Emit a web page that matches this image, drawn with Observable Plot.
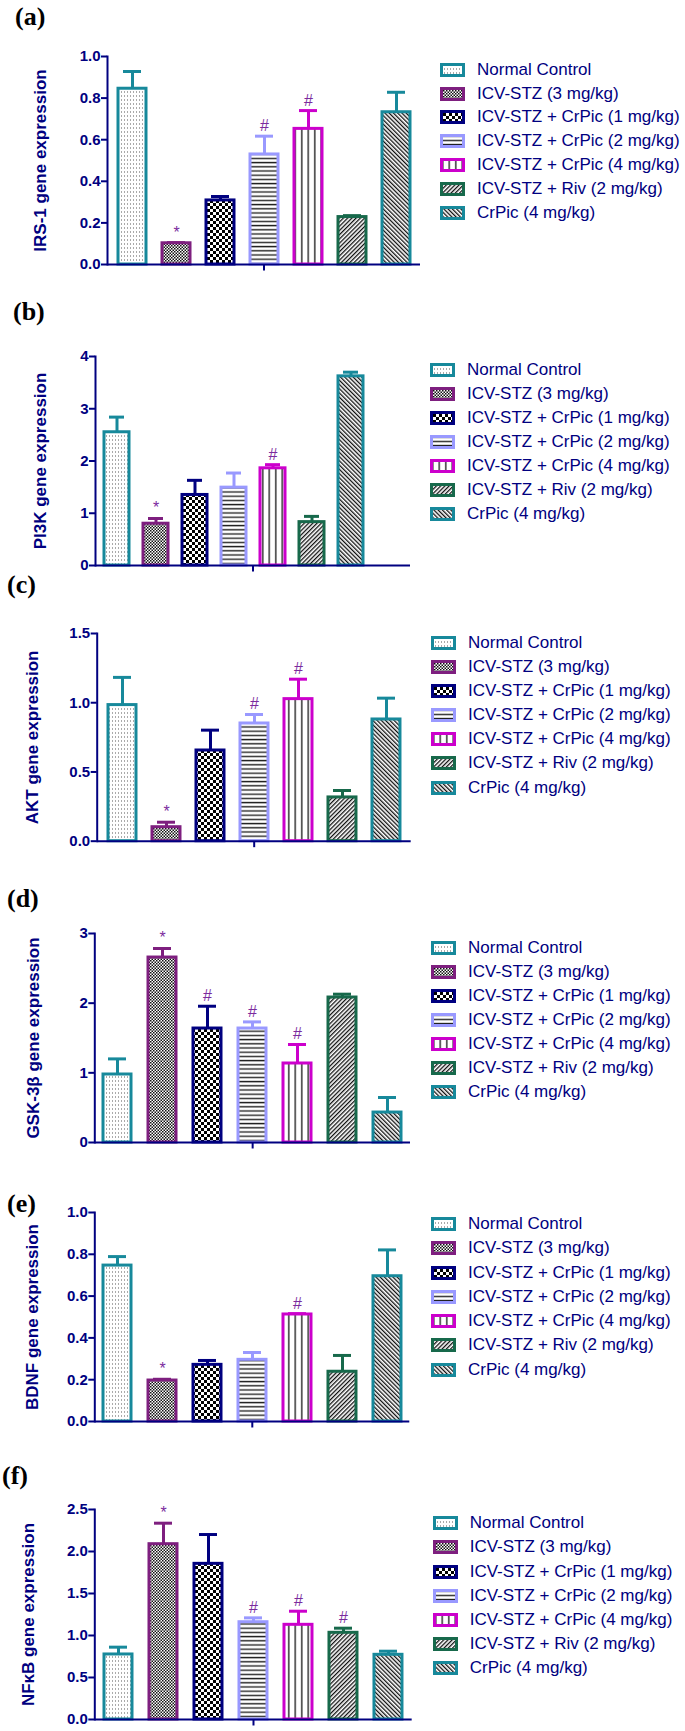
<!DOCTYPE html>
<html>
<head>
<meta charset="utf-8">
<script src="https://cdn.jsdelivr.net/npm/d3@7"></script>
<script src="https://cdn.jsdelivr.net/npm/@observablehq/plot@0.6"></script>
<style>
  body { margin: 0; background: #fff; }
  #page { position: relative; width: 685px; height: 1731px; overflow: hidden; font-family: "Liberation Sans", Arial, sans-serif; }
  .panel-label { position: absolute; font-family: "Liberation Serif", "Times New Roman", serif; font-weight: bold; font-size: 26px; line-height: 26px; color: #000; white-space: nowrap; }
  .legend { position: absolute; color: #000080; font-size: 17px; font-family: "Liberation Sans", Arial, sans-serif; }
  .legend .row { display: flex; align-items: center; white-space: nowrap; }
  .legend .row svg { flex: none; margin-right: 12px; }
  .chart { position: absolute; left: 0; }
  .chart svg { overflow: visible; }
</style>
</head>
<body>
<svg width="0" height="0" style="position:absolute">
  <defs>
    <pattern id="pat0" width="3" height="4" patternUnits="userSpaceOnUse"><rect width="3" height="4" fill="#fff"/><rect x="1" y="1.5" width="1" height="1" fill="#555"/></pattern>
    <pattern id="pat1" width="3" height="3" patternUnits="userSpaceOnUse"><rect width="3" height="3" fill="#fff"/><rect width="1.5" height="1.5" fill="#111"/><rect x="1.5" y="1.5" width="1.5" height="1.5" fill="#111"/></pattern>
    <pattern id="pat2" width="6" height="6" patternUnits="userSpaceOnUse"><rect width="6" height="6" fill="#fff"/><rect width="3" height="3" fill="#000"/><rect x="3" y="3" width="3" height="3" fill="#000"/></pattern>
    <pattern id="pat3" width="4" height="4.2" patternUnits="userSpaceOnUse"><rect width="4" height="4.2" fill="#fff"/><rect y="1.5" width="4" height="1.4" fill="#222"/></pattern>
    <pattern id="pat4" width="6.5" height="4" patternUnits="userSpaceOnUse"><rect width="6.5" height="4" fill="#fff"/><rect x="2" width="1.5" height="4" fill="#333"/></pattern>
    <pattern id="pat5" width="3" height="3" patternUnits="userSpaceOnUse" patternTransform="rotate(45)"><rect width="3" height="3" fill="#fff"/><rect width="1.3" height="3" fill="#111"/></pattern>
    <pattern id="pat6" width="3" height="3" patternUnits="userSpaceOnUse" patternTransform="rotate(-45)"><rect width="3" height="3" fill="#fff"/><rect width="1.3" height="3" fill="#111"/></pattern>
  </defs>
</svg>
<div id="page"></div>
<script>
// ---------- DATA ----------
const groups = [
  "Normal Control",
  "ICV-STZ (3 mg/kg)",
  "ICV-STZ + CrPic (1 mg/kg)",
  "ICV-STZ + CrPic (2 mg/kg)",
  "ICV-STZ + CrPic (4 mg/kg)",
  "ICV-STZ + Riv (2 mg/kg)",
  "CrPic (4 mg/kg)"
];

const panelLabels = ["(a)", "(b)", "(c)", "(d)", "(e)", "(f)"];
const yTitles = ["IRS-1 gene expression", "PI3K gene expression", "AKT gene expression",
                 "GSK-3β gene expression", "BDNF gene expression", "NFκB gene expression"];

const irs1Mean = [0.845, 0.102, 0.308, 0.529, 0.652, 0.228, 0.732];
const irs1Sem  = [0.083, 0.003, 0.019, 0.088, 0.088, 0.007, 0.096];
const irs1Sig  = ["", "*", "", "#", "#", "", ""];
const irs1Ticks = [0, 0.2, 0.4, 0.6, 0.8, 1.0];

const pi3kMean = [2.55, 0.80, 1.35, 1.49, 1.86, 0.83, 3.62];
const pi3kSem  = [0.29, 0.10, 0.28, 0.28, 0.07, 0.11, 0.08];
const pi3kSig  = ["", "*", "", "", "#", "", ""];
const pi3kTicks = [0, 1, 2, 3, 4];

const aktMean = [0.983, 0.101, 0.655, 0.850, 1.026, 0.316, 0.879];
const aktSem  = [0.200, 0.036, 0.147, 0.065, 0.144, 0.050, 0.154];
const aktSig  = ["", "*", "", "#", "#", "", ""];
const aktTicks = [0, 0.5, 1.0, 1.5];

const gskMean = [0.976, 2.655, 1.636, 1.636, 1.134, 2.081, 0.430];
const gskSem  = [0.224, 0.130, 0.320, 0.095, 0.273, 0.048, 0.216];
const gskSig  = ["", "*", "#", "#", "#", "", ""];
const gskTicks = [0, 1, 2, 3];

const bdnfMean = [0.746, 0.196, 0.271, 0.295, 0.512, 0.238, 0.695];
const bdnfSem  = [0.043, 0.006, 0.021, 0.035, 0.004, 0.078, 0.126];
const bdnfSig  = ["", "*", "", "", "#", "", ""];
const bdnfTicks = [0, 0.2, 0.4, 0.6, 0.8, 1.0];

const nfkbMean = [0.774, 2.087, 1.853, 1.158, 1.127, 1.032, 0.770];
const nfkbSem  = [0.087, 0.250, 0.349, 0.052, 0.162, 0.055, 0.043];
const nfkbSig  = ["", "*", "", "#", "#", "#", ""];
const nfkbTicks = [0, 0.5, 1.0, 1.5, 2.0, 2.5];

// ---------- STYLES ----------
const navy = "#000080";
const sigColor = "#7B2B9E";
const barStrokes = ["#17899B", "#7E1F7F", "#000080", "#9999FF", "#CC00CC", "#17694B", "#17899B"];
const barFills = groups.map((g, i) => `url(#pat${i})`);

// ---------- LAYOUT ----------
const panels = [
  {mean: irs1Mean, sem: irs1Sem, sig: irs1Sig, ticks: irs1Ticks, fmt: ".1f",
   axisX: 107, axisEnd: 420, yTop: 56, y0: 264, slots: 7, titleOff: 67,
   lab: [15, 4], leg: [440, 69.7, 23.9]},
  {mean: pi3kMean, sem: pi3kSem, sig: pi3kSig, ticks: pi3kTicks, fmt: "d",
   axisX: 95, axisEnd: 410, yTop: 356, y0: 565, slots: 8, titleOff: 55,
   lab: [13, 299], leg: [430, 370, 24.05]},
  {mean: aktMean, sem: aktSem, sig: aktSig, ticks: aktTicks, fmt: ".1f",
   axisX: 96.7, axisEnd: 410.7, yTop: 633.3, y0: 841, slots: 7, titleOff: 65,
   lab: [7, 571.5], leg: [431, 643, 24.1]},
  {mean: gskMean, sem: gskSem, sig: gskSig, ticks: gskTicks, fmt: "d",
   axisX: 94.3, axisEnd: 410, yTop: 933.3, y0: 1142.3, slots: 7, titleOff: 61,
   lab: [7, 885.5], leg: [431, 947.7, 24]},
  {mean: bdnfMean, sem: bdnfSem, sig: bdnfSig, ticks: bdnfTicks, fmt: ".1f",
   axisX: 94.3, axisEnd: 409.3, yTop: 1212, y0: 1421, slots: 7, titleOff: 62.6,
   lab: [7, 1191], leg: [431, 1224, 24.3]},
  {mean: nfkbMean, sem: nfkbSem, sig: nfkbSig, ticks: nfkbTicks, fmt: ".1f",
   axisX: 94.3, axisEnd: 411.7, yTop: 1509, y0: 1719, slots: 7, titleOff: 66,
   lab: [2, 1463], leg: [432.7, 1523.3, 24.2]}
];

const page = document.getElementById("page");

// small vertical tick symbol for the centre x-axis tick
const tickSymbol = {
  draw(ctx, size) {
    const r = Math.sqrt(size / Math.PI);
    ctx.moveTo(0, 0);
    ctx.lineTo(0, r);
  }
};

panels.forEach((p, k) => {
  const rows = groups.map((g, i) => ({
    group: g, mean: p.mean[i], sem: p.sem[i], sig: p.sig[i],
    fill: barFills[i], stroke: barStrokes[i]
  }));
  const mt = 30, mb = 14, mr = 8;
  const height = mt + (p.y0 - p.yTop) + mb;
  const width = p.axisEnd + mr;
  const span = p.axisEnd - p.axisX;
  const chart = Plot.plot({
    width, height,
    marginLeft: p.axisX, marginRight: mr, marginTop: mt, marginBottom: mb,
    x: {domain: groups, paddingInner: 0.37, paddingOuter: 0.185,
        insetRight: p.slots === 8 ? span / 8 : 0, axis: null},
    y: {domain: [0, p.ticks[p.ticks.length - 1]], axis: null},
    color: {type: "identity"},
    style: {fontFamily: "'Liberation Sans', Arial, sans-serif", color: navy, background: "transparent", overflow: "visible"},
    marks: [
      Plot.ruleX(rows, {x: "group", y1: "mean", y2: d => d.mean + d.sem, stroke: "stroke", strokeWidth: 3}),
      Plot.tickY(rows, {x: "group", y: d => d.mean + d.sem, stroke: "stroke", strokeWidth: 3, insetLeft: 5, insetRight: 5}),
      Plot.barY(rows, {x: "group", y: "mean", fill: "fill", stroke: "stroke", strokeWidth: 3}),
      Plot.text(rows.filter(d => d.sig), {x: "group", y: d => d.mean + d.sem, text: "sig",
        lineAnchor: "bottom", dy: -5, fill: sigColor, fontSize: 16}),
      Plot.ruleY([0], {stroke: navy, strokeWidth: 2}),
      Plot.frame({anchor: "left", stroke: navy, strokeWidth: 2}),
      Plot.axisY({ticks: p.ticks, tickFormat: d3.format(p.fmt), tickSize: 6, tickPadding: 1,
        strokeWidth: 2, fontSize: 15, fontWeight: "bold", label: null}),
      Plot.text([yTitles[k]], {frameAnchor: "left", rotate: -90, dx: -p.titleOff,
        textAnchor: "middle", lineAnchor: "middle",
        fontSize: 17, fontWeight: "bold", fill: navy}),
      Plot.dot([0], {frameAnchor: "bottom", symbol: tickSymbol, r: 6, stroke: navy, strokeWidth: 2, fill: "none"})
    ]
  });
  const wrap = document.createElement("div");
  wrap.className = "chart";
  wrap.style.top = (p.yTop - mt) + "px";
  wrap.appendChild(chart);
  page.appendChild(wrap);

  // panel label
  const lab = document.createElement("div");
  lab.className = "panel-label";
  lab.style.left = p.lab[0] + "px";
  lab.style.top = p.lab[1] + "px";
  lab.textContent = panelLabels[k];
  page.appendChild(lab);

  // legend
  const [lx, ly, step] = p.leg;
  const leg = document.createElement("div");
  leg.className = "legend";
  leg.style.left = lx + "px";
  leg.style.top = (ly - step / 2) + "px";
  groups.forEach((g, i) => {
    const row = document.createElement("div");
    row.className = "row";
    row.style.height = step + "px";
    const ns = "http://www.w3.org/2000/svg";
    const sw = document.createElementNS(ns, "svg");
    sw.setAttribute("width", 25); sw.setAttribute("height", 14);
    const r = document.createElementNS(ns, "rect");
    r.setAttribute("x", 1.5); r.setAttribute("y", 1.5);
    r.setAttribute("width", 22); r.setAttribute("height", 11);
    r.setAttribute("fill", barFills[i]); r.setAttribute("stroke", barStrokes[i]);
    r.setAttribute("stroke-width", 3);
    sw.appendChild(r);
    row.appendChild(sw);
    const t = document.createElement("span");
    t.textContent = g;
    row.appendChild(t);
    leg.appendChild(row);
  });
  page.appendChild(leg);
});
</script>
</body>
</html>
